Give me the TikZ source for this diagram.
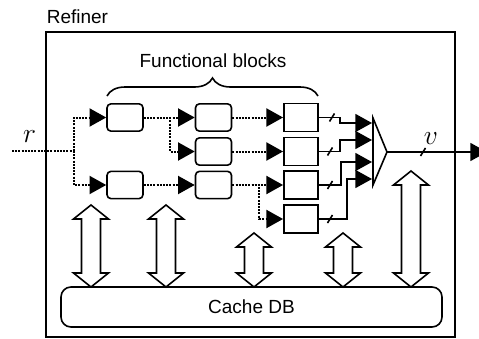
\documentclass[tikz,border=0pt]{standalone}
\usepackage{fontspec}
\setmainfont{Liberation Sans}
\usetikzlibrary{arrows.meta,decorations.pathreplacing}
\begin{document}
\begin{tikzpicture}[x=0.75pt,y=-0.75pt,
  line width=1.2pt,
  lbl/.style={font=\fontsize{14.25}{17}\selectfont, inner sep=0pt},
  mathlbl/.style={font=\fontsize{20}{24}\selectfont, inner sep=0pt},
  fblock/.style={draw, rounded corners=3pt, minimum width=27pt, minimum height=20.5pt, inner sep=0pt},
  sqblock/.style={draw, line width=1.4pt, minimum width=25.5pt, minimum height=21pt, inner sep=0pt},
  arrowtip/.style={-{Triangle[length=12.5pt,width=13.5pt]}},
  dots/.style={line width=1.5pt, dash pattern=on 1.5pt off 0.9pt},
  dotline/.style={dots, arrowtip},
  bigarrow/.style={draw, fill=white, line join=miter},
]
\useasboundingbox (0,0) rectangle (479,339);

% enclosing block
\node[lbl, anchor=west] (title) at (46,17) {Refiner};
\draw[line width=1.4pt] (46,32) rectangle (455,337);

% functional blocks
\node[fblock] (a1)   at (125,117.5) {};
\node[fblock] (b1)   at (125,185) {};
\node[fblock] (c2r1) at (213.5,117.5) {};
\node[fblock] (c2r2) at (213.5,151.5) {};
\node[fblock] (c2r3) at (213.5,185) {};
\node[sqblock] (c3r1) at (301,117.5) {};
\node[sqblock] (c3r2) at (301,151.5) {};
\node[sqblock] (c3r3) at (301,185) {};
\node[sqblock] (c3r4) at (301,219) {};

% brace and caption
\draw[decorate, decoration={brace, amplitude=13.5pt}] (107,96) -- (318,96);
\node[lbl] (fbl) at (213,61) {Functional blocks};

% input r
\coordinate (rstart) at (12,151);
\coordinate (rsplit) at (74,151);
\node[mathlbl] (rlab) at (29.5,136.5) {$r$};
\draw[dots] (rstart) -- (rsplit);
\draw[dotline] (rsplit) |- (a1.west);
\draw[dotline] (rsplit) |- (b1.west);

% dotted links between stages
\draw[dotline] (a1.east) -- (c2r1.west);
\draw[dotline] (a1.east) -- ++(26,0) |- (c2r2.west);
\draw[dotline] (b1.east) -- (c2r3.west);
\draw[dotline] (c2r1.east) -- (c3r1.west);
\draw[dotline] (c2r2.east) -- (c3r2.west);
\draw[dotline] (c2r3.east) -- (c3r3.west);
\draw[dotline] (c2r3.east) -- ++(27,0) |- (c3r4.west);

% multiplexer
\draw[line join=miter] (373,118) -- (373,185) -- (387,152) -- cycle;
\coordinate (m1) at (372,123);
\coordinate (m2) at (372,140);
\coordinate (m3) at (372,162);
\coordinate (m4) at (372,179);
\coordinate (muxout) at (387,152);
\coordinate (vend) at (487,152);

% bus lines into the multiplexer
\draw[arrowtip] (c3r1.east) -- ++(21,0) |- (m1);
\draw[arrowtip] (c3r2.east) -- ++(21,0) |- (m2);
\draw[arrowtip] (c3r3.east) -- ++(22,0) |- (m3);
\draw[arrowtip] (c3r4.east) -- ++(28,0) |- (m4);

% output v
\draw[arrowtip] (muxout) -- (vend);
\node[mathlbl] (vlab) at (431,139) {$v$};

% bus-width ticks
\foreach \sx/\sy in {332/117.5,330/151.5,330/185,330/219,423/152}
  \draw (\sx-2.5,\sy+4) -- (\sx+2.5,\sy-4);

% cache database
\node[draw, rounded corners=7.5pt, minimum width=285.75pt, minimum height=30pt, lbl] (cache) at (251.5,307) {Cache DB};

% two-way block arrows to the cache
\foreach \x/\t in {91/205,166/205,254/233,343/233,411/171}
  \draw[bigarrow] (\x,\t) -- ++(17.5,14) -- ++(-8,0) -- (\x+9.5,273) -- ++(8,0)
    -- (\x,287) -- ++(-17.5,-14) -- ++(8,0) -- (\x-9.5,\t+14) -- ++(-8,0) -- cycle;
\end{tikzpicture}
\end{document}
